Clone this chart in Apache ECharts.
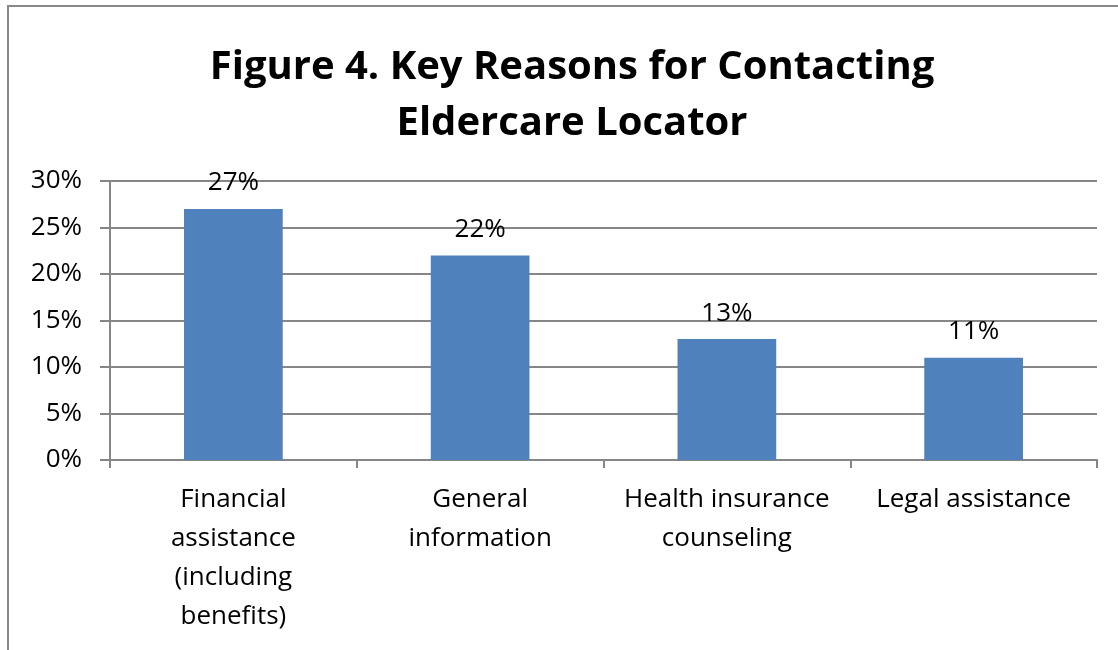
<!DOCTYPE html>
<html>
<head>
<meta charset="utf-8">
<script src="https://cdn.jsdelivr.net/npm/echarts@6/dist/echarts.min.js"></script>
<style>
html,body{margin:0;padding:0;background:#fff;}
#c{width:1118px;height:650px;}
</style>
</head>
<body>
<div id="c"></div>
<script>
const titleText = "Figure 4. Key Reasons for Contacting\nEldercare Locator";
const categories = ["Financial\nassistance\n(including\nbenefits)", "General\ninformation", "Health insurance\ncounseling", "Legal assistance"];
const values = [27, 22, 13, 11];
const yTicks = { min: 0, max: 30, interval: 5 };

const FONT = "'Open Sans', 'Noto Sans', sans-serif";
const chart = echarts.init(document.getElementById('c'), null, {renderer: 'canvas'});
chart.setOption({
  animation: false,
  backgroundColor: '#fff',
  graphic: [{
    type: 'rect', silent: true, z: 100,
    shape: { x: 8, y: 6, width: 1130, height: 700 },
    style: { fill: 'none', stroke: '#898989', lineWidth: 2 }
  }],
  title: {
    text: titleText,
    left: 567, top: 35, textAlign: 'center',
    textStyle: { fontFamily: FONT, fontWeight: 'bold', fontSize: 40, lineHeight: 56, color: '#000' }
  },
  grid: { left: 110, right: 21, top: 181, bottom: 190, containLabel: false },
  xAxis: {
    type: 'category',
    data: categories,
    axisLine: { lineStyle: { color: '#868686', width: 2 } },
    axisTick: { show: true, length: 8, lineStyle: { color: '#868686', width: 2 } },
    axisLabel: { interval: 0, color: '#000', fontFamily: FONT, fontSize: 26, lineHeight: 39, margin: 20 }
  },
  yAxis: {
    type: 'value', min: yTicks.min, max: yTicks.max, interval: yTicks.interval,
    axisLine: { show: true, lineStyle: { color: '#868686', width: 2 } },
    axisTick: { show: true, length: 10, lineStyle: { color: '#868686', width: 2 } },
    splitLine: { show: true, lineStyle: { color: '#868686', width: 2 } },
    axisLabel: { color: '#000', fontFamily: FONT, fontSize: 26, margin: 28, formatter: '{value}%' }
  },
  series: [{
    type: 'bar',
    data: values,
    barWidth: '40%',
    itemStyle: { color: '#4F81BD' },
    label: { show: true, position: 'top', distance: 13, color: '#000', fontFamily: FONT, fontSize: 26, formatter: '{c}%' }
  }]
});
</script>
</body>
</html>
